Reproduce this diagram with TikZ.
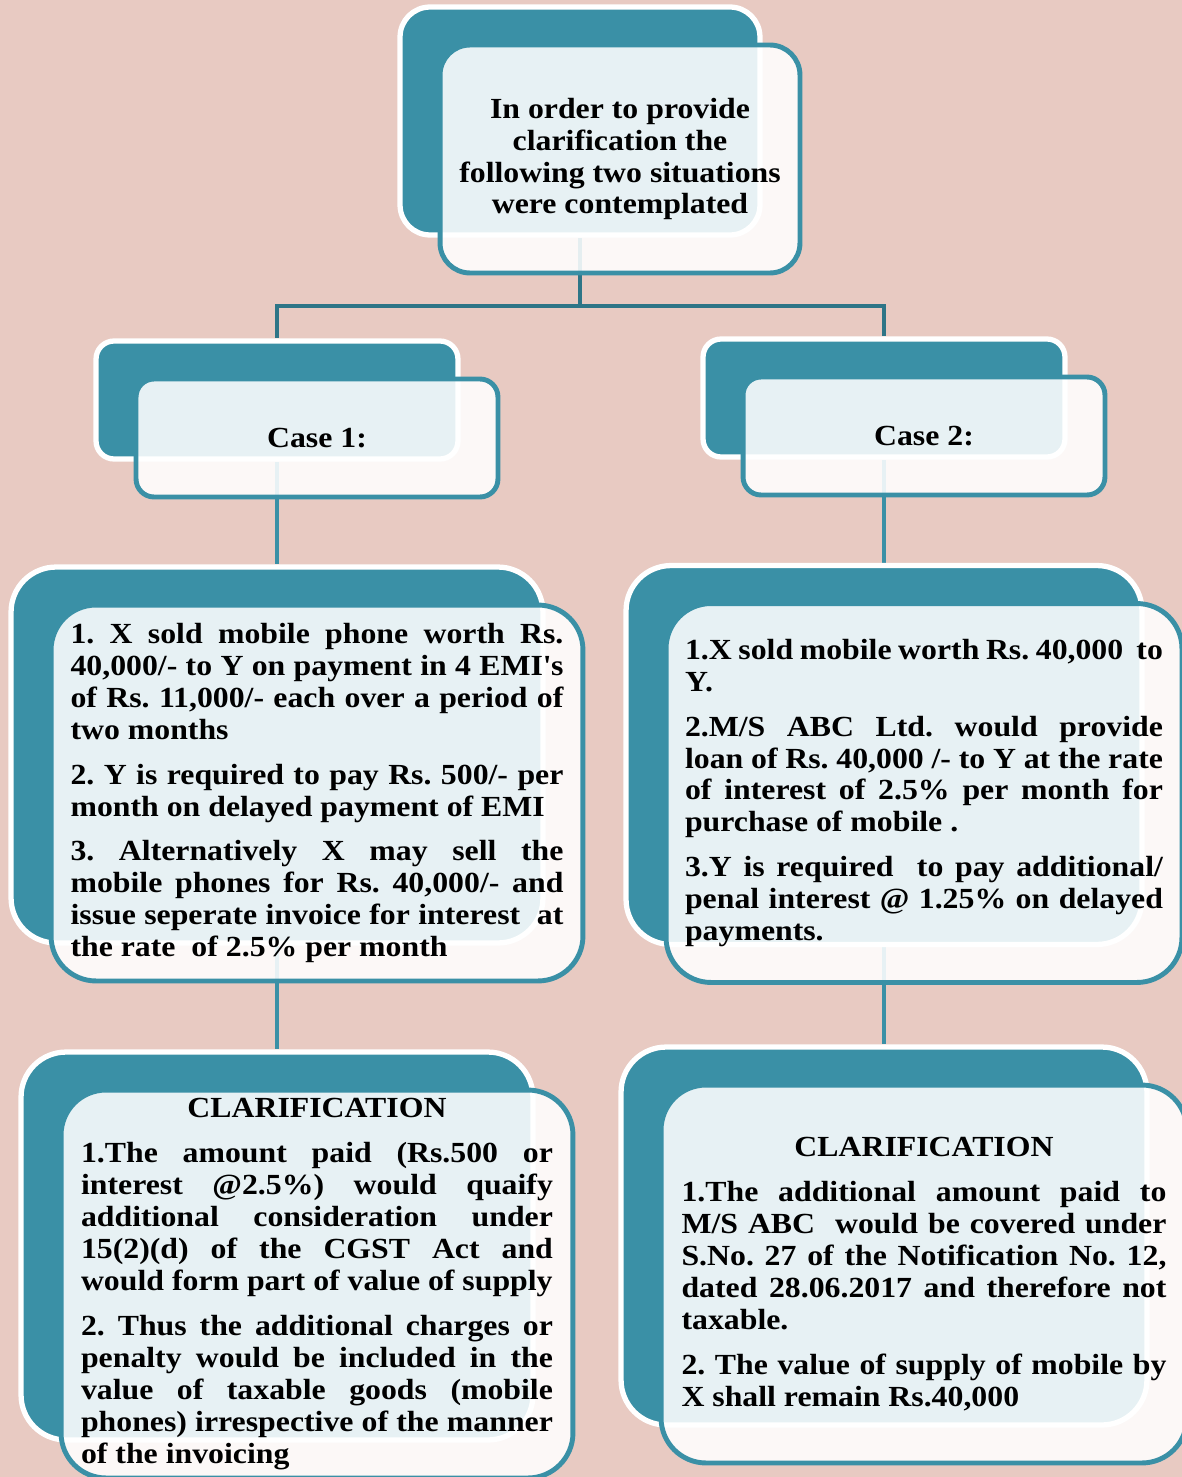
\documentclass[tikz,border=0pt]{standalone}
\usepackage{fontspec}
\setmainfont{Liberation Serif}[FakeStretch=1.09]
\usetikzlibrary{positioning}

\definecolor{bgpink}{RGB}{232,202,194}
\definecolor{boxteal}{RGB}{58,144,166}
\definecolor{linkteal}{RGB}{46,117,135}

\pgfdeclarelayer{background}
\pgfsetlayers{background,main}

\newcommand{\panelfont}{\bfseries\fontsize{16.6}{18.2}\selectfont\frenchspacing\hyphenpenalty=10000\exhyphenpenalty=10000}

\tikzset{
  backbox/.style={draw=white, line width=3pt, fill=boxteal, rounded corners=#1, inner sep=0pt},
  frontbox/.style={draw=boxteal, line width=2.8pt, fill=white, fill opacity=0.88, text opacity=1,
    rounded corners=#1, inner sep=0pt, font=\panelfont,
    execute at begin node={\setlength{\parskip}{7.4pt}}},
  link/.style={draw=boxteal, line width=2.3pt},
  toplink/.style={draw=linkteal, line width=2.6pt},
  toppanel/.style={minimum width=7.2cm, minimum height=4.56cm},
  casepanel/.style={minimum width=7.24cm, minimum height=2.36cm},
}

\begin{document}
\begin{tikzpicture}[x=0.02cm, y=-0.02cm]
  % Page background
  \begin{pgfonlayer}{background}
    \fill[bgpink] (0,0) rectangle (1182,1477);
  \end{pgfonlayer}
  \useasboundingbox (0,0) rectangle (1182,1477);

  % Draw the back panels
  \node[backbox=0.6cm, toppanel] (topback) at (580,121) {};
  \node[backbox=0.36cm, casepanel] (case1back) at (277,400) {};
  \node[backbox=0.36cm, casepanel] (case2back) at (884,398) {};
  \node[backbox=0.9cm, minimum width=10.64cm, minimum height=7.52cm] (sit1back) at (277,755) {};
  \node[backbox=0.9cm, minimum width=10.32cm, minimum height=7.58cm] (sit2back) at (884,755) {};
  \node[backbox=0.9cm, minimum width=10.24cm, minimum height=7.76cm] (clar1back) at (277,1246) {};
  \node[backbox=0.9cm, minimum width=10.52cm, minimum height=7.56cm] (clar2back) at (884,1236) {};

  % Draw the front panels with the text
  \node[frontbox=0.6cm, toppanel, align=center] (topfront) at ([shift={(40,38)}]topback.center)
    {In order to provide\\clarification the\\following two situations\\were contemplated};
  \node[frontbox=0.36cm, casepanel] (case1front) at ([shift={(40,38)}]case1back.center) {Case 1:};
  \node[frontbox=0.36cm, casepanel] (case2front) at ([shift={(40,38)}]case2back.center) {Case 2:};

  \node[frontbox=0.9cm, minimum width=10.64cm, minimum height=7.52cm, text width=9.86cm, align=justify]
    (sit1front) at ([shift={(40,38)}]sit1back.center)
    {1. X sold mobile phone worth Rs.\linebreak 40,000/- to Y on payment in 4 EMI\textquotesingle s\linebreak
     of Rs. 11,000/- each over a period of\linebreak two months\par
     2. Y is required to pay Rs. 500/- per\linebreak month on delayed payment of EMI\par
     3. Alternatively X may sell the\linebreak mobile phones for Rs. 40,000/- and\linebreak
     issue seperate invoice for interest~ at\linebreak the rate~ of 2.5\% per month};
  \node[frontbox=0.9cm, minimum width=10.32cm, minimum height=7.58cm, text width=9.56cm, align=justify]
    (sit2front) at ([shift={(40,38)}]sit2back.center)
    {1.X sold mobile worth Rs. 40,000~ to\linebreak Y.\par
     2.M/S ABC Ltd. would provide\linebreak loan of Rs. 40,000 /- to Y at the rate\linebreak
     of interest of 2.5\% per month for\linebreak purchase of mobile .\par
     3.Y is required~ to pay additional/\linebreak penal interest @ 1.25\% on delayed\linebreak payments.};
  \node[frontbox=0.9cm, minimum width=10.24cm, minimum height=7.76cm, text width=9.44cm, align=justify]
    (clar1front) at ([shift={(40,38)}]clar1back.center)
    {{\centering CLARIFICATION\par}
     1.The amount paid (Rs.500 or\linebreak interest @2.5\%) would quaify\linebreak
     additional consideration under\linebreak 15(2)(d) of the CGST Act and\linebreak
     would form part of value of supply\par
     2. Thus the additional charges or\linebreak penalty would be included in the\linebreak
     value of taxable goods (mobile\linebreak phones) irrespective of the manner\linebreak of the invoicing};
  \node[frontbox=0.9cm, minimum width=10.52cm, minimum height=7.56cm, text width=9.7cm, align=justify]
    (clar2front) at ([shift={(40,38)}]clar2back.center)
    {{\centering CLARIFICATION\par}
     1.The additional amount paid to\linebreak M/S ABC~ would be covered under\linebreak
     S.No. 27 of the Notification No. 12,\linebreak dated 28.06.2017 and therefore not\linebreak taxable.\par
     2. The value of supply of mobile by\linebreak X shall remain Rs.40,000};

  % Connecting lines, behind the panels
  \coordinate (split) at (580,306);
  \begin{pgfonlayer}{background}
    \draw[toplink] (topback.south) -- (split) -| (case1back.north);
    \draw[toplink] (split) -| (case2back.north);
    \draw[link] (case1back.south) -- (sit1back.north);
    \draw[link] (case2back.south) -- (sit2back.north);
    \draw[link] (sit1back.south) -- (clar1back.north);
    \draw[link] (sit2back.south) -- (clar2back.north);
  \end{pgfonlayer}
\end{tikzpicture}
\end{document}
